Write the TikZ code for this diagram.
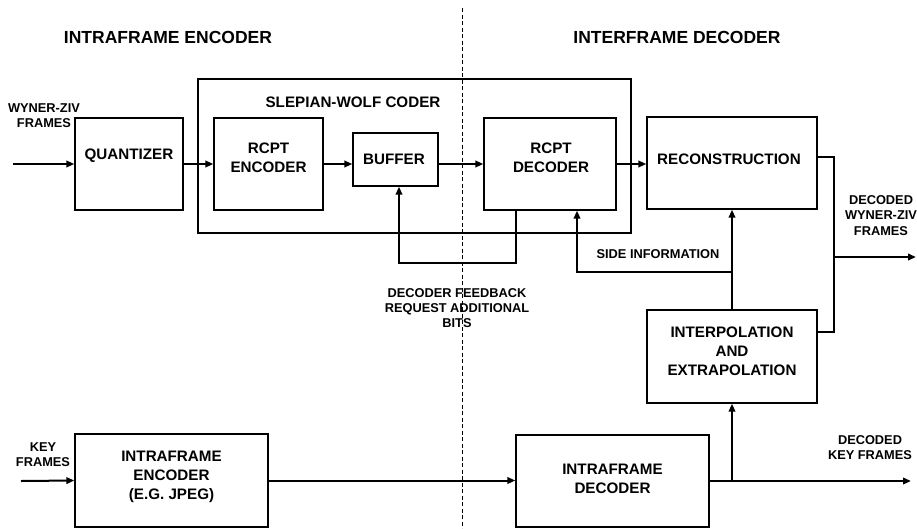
\documentclass[tikz,border=0pt]{standalone}
\usepackage{fontspec}
\setmainfont{Liberation Sans}
\usetikzlibrary{arrows.meta}
\begin{document}
\begin{tikzpicture}[x=1pt,y=-1pt,
  blk/.style={draw, line width=1.3pt, inner sep=0pt, rectangle},
  boxtxt/.style={font=\fontsize{15.2}{18.8}\selectfont\bfseries, align=center, inner sep=0pt},
  lbl/.style={font=\fontsize{12.8}{15.2}\selectfont\bfseries, align=center, inner sep=0pt},
  ttl/.style={font=\fontsize{17.5}{20}\selectfont\bfseries, inner sep=0pt},
  conn/.style={line width=2pt},
  arr/.style={conn, -{Triangle[length=8pt,width=6.5pt]}},
  divider/.style={line width=0.8pt, dash pattern=on 4pt off 2.5pt}
]
\useasboundingbox (0,0) rectangle (917,528);

% divider
\coordinate (dtop) at (462,8);
\coordinate (dbot) at (462,528);
\draw[divider] (dtop) -- (dbot);

% titles
\node[ttl] (tl) at (168,37) {INTRAFRAME ENCODER};
\node[ttl] (tr) at (677,37) {INTERFRAME DECODER};

% Slepian-Wolf outer box
\node[blk, minimum width=433pt, minimum height=154pt] (sw) at (414.5,156) {};
\node[boxtxt] (swt) at (353,102) {SLEPIAN-WOLF CODER};

% blocks
\node[blk, minimum width=108pt, minimum height=92pt] (q) at (129,164) {};
\node[boxtxt] (qt) at (129,156) {QUANTIZER};

\node[blk, minimum width=109pt, minimum height=92pt] (rcpte) at (268.5,164) {};
\node[boxtxt] (rcpteT) at (268.5,157.5) {RCPT\\ENCODER};

\node[blk, minimum width=85pt, minimum height=53pt] (buf) at (395.5,159.5) {};
\node[boxtxt] (bufT) at (394,159) {BUFFER};

\node[blk, minimum width=132pt, minimum height=92pt] (rcptd) at (550,164) {};
\node[boxtxt] (rcptdT) at (551,157.5) {RCPT\\DECODER};

\node[blk, minimum width=170pt, minimum height=92pt] (rec) at (732,163) {};
\node[boxtxt] (recT) at (729,159) {RECONSTRUCTION};

\node[blk, minimum width=170pt, minimum height=93pt] (interp) at (732,356.5) {};
\node[boxtxt] (interpT) at (732,351.5) {INTERPOLATION\\AND\\EXTRAPOLATION};

\node[blk, minimum width=193pt, minimum height=93pt] (intenc) at (171.5,480.5) {};
\node[boxtxt] (intencT) at (171.5,477) {INTRAFRAME\\ENCODER\\(E.G. JPEG)};

\node[blk, minimum width=193pt, minimum height=92pt] (intdec) at (612.5,481) {};
\node[boxtxt] (intdecT) at (612.5,479) {INTRAFRAME\\DECODER};

% labels
\node[lbl] (wzl) at (44,115.5) {WYNER-ZIV\\FRAMES};
\node[lbl] (keyl) at (43,455) {KEY\\FRAMES};
\node[lbl] (fbl) at (457,308) {DECODER FEEDBACK\\REQUEST ADDITIONAL\\BITS};
\node[lbl] (sil) at (658,254) {SIDE INFORMATION};
\node[lbl] (dwzl) at (881,215.5) {DECODED\\WYNER-ZIV\\FRAMES};
\node[lbl] (dkl) at (870,447.5) {DECODED\\KEY FRAMES};

% free ends
\coordinate (wzin) at (13,164);
\coordinate (keyin) at (21,481);
\coordinate (keyout) at (911,481);
\coordinate (bus) at (833,257);
\coordinate (wzout) at (916,257);
\coordinate (sij) at (732,272);
\coordinate (fbl1) at (516,263);

% connectors top row
\draw[arr] (wzin) -- (q.west);
\draw[arr] (q.east) -- (rcpte.west);
\draw[arr] (rcpte.east) -- (rcpte.east -| buf.west);
\draw[arr] (rcptd.west -| buf.east) -- (rcptd.west);
\draw[arr] (rcptd.east) -- (rcptd.east -| rec.west);

% feedback
\draw[arr] (fbl1 |- rcptd.south) -- (fbl1) -| ([xshift=3.5pt]buf.south);

% side information
\draw[arr] (interp.north) -- (rec.south);
\draw[arr] (sij) -| ([xshift=27pt]rcptd.south);

% decoded wyner-ziv output
\draw[conn] ([yshift=6pt]rec.east) -- ++(16,0) |- ([yshift=24.5pt]interp.east);
\draw[arr] (bus) -- (wzout);

% bottom row
\draw[arr] (keyin) -- (intenc.west);
\draw[arr] (intenc.east) -- (intenc.east -| intdec.west);
\draw[arr] (intdec.east) -- (keyout);
\draw[arr] (intdec.east -| interp.south) -- (interp.south);

\end{tikzpicture}
\end{document}
